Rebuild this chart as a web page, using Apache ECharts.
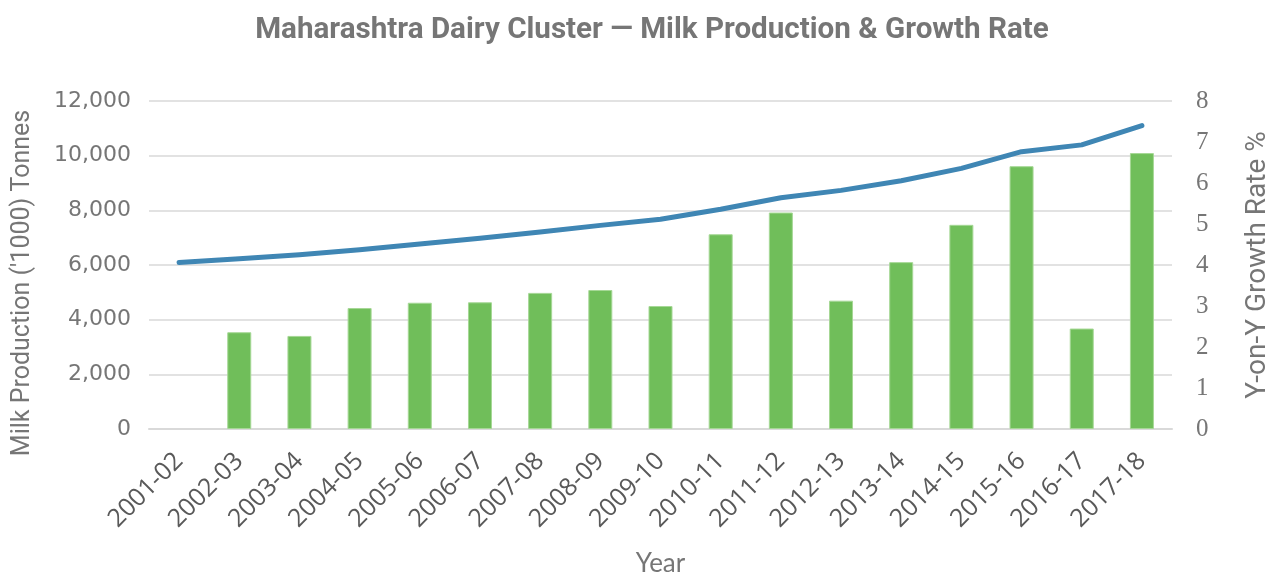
<!DOCTYPE html>
<html>
<head>
<meta charset="utf-8">
<title>Maharashtra Dairy Cluster</title>
<script src="https://cdn.jsdelivr.net/npm/echarts@6/dist/echarts.min.js"></script>
<style>
  html, body { margin: 0; padding: 0; background: #fff; }
  #chart { width: 1266px; height: 574px; }
</style>
</head>
<body>
<div id="chart"></div>
<script>
const years = ['2001-02', '2002-03', '2003-04', '2004-05', '2005-06', '2006-07', '2007-08', '2008-09', '2009-10',
  '2010-11', '2011-12', '2012-13', '2013-14', '2014-15', '2015-16', '2016-17', '2017-18'];
// milk production, '1000 tonnes
const production = [6090, 6230, 6375, 6560, 6765, 6975, 7205, 7450, 7675,
  8040, 8460, 8730, 9080, 9535, 10145, 10395, 11100];
// year-on-year growth, %
const growth = [null, 2.36, 2.27, 2.95, 3.08, 3.09, 3.32, 3.39, 3.0,
  4.75, 5.28, 3.13, 4.07, 4.98, 6.41, 2.45, 6.73];

const grey = '#767676';
const chart = echarts.init(document.getElementById('chart'));

chart.setOption({
  animation: false,
  title: {
    text: 'Maharashtra Dairy Cluster — Milk Production & Growth Rate',
    left: 647,
    top: 11,
    textAlign: 'center',
    textStyle: {
      fontFamily: 'Roboto, sans-serif',
      fontWeight: 'bold',
      fontSize: 29.6,
      color: '#767676',
    },
  },
  grid: { left: 149, right: 94, top: 101, bottom: 145, outerBoundsMode: 'none' },
  xAxis: {
    type: 'category',
    data: years,
    name: 'Year',
    nameLocation: 'middle',
    nameGap: 122,
    nameTextStyle: { fontFamily: 'Lato, sans-serif', fontSize: 26, color: grey },
    axisLine: { lineStyle: { color: '#d9d9d9', width: 2 } },
    axisTick: { show: false },
    axisLabel: {
      rotate: 45,
      interval: 0,
      margin: 28,
      fontFamily: '"Open Sans", sans-serif',
      fontSize: 25,
      color: '#595959',
    },
  },
  yAxis: [
    {
      type: 'value',
      min: 0,
      max: 12000,
      interval: 2000,
      name: "Milk Production ('1000) Tonnes",
      nameLocation: 'middle',
      nameGap: 114,
      nameRotate: 90,
      nameTextStyle: { fontFamily: 'Roboto, sans-serif', fontSize: 25, color: grey, padding: [0, 36, 0, 0] },
      axisLine: { show: false },
      axisTick: { show: false },
      axisLabel: {
        margin: 18,
        fontFamily: '"DejaVu Sans", sans-serif',
        fontSize: 22,
        color: grey,
        formatter: v => v.toLocaleString('en-US'),
      },
      splitLine: { lineStyle: { color: '#d9d9d9', width: 1.5 } },
    },
    {
      type: 'value',
      min: 0,
      max: 8,
      interval: 1,
      name: 'Y-on-Y Growth Rate %',
      nameLocation: 'middle',
      nameGap: 72,
      nameRotate: 90,
      nameTextStyle: { fontFamily: 'Roboto, sans-serif', fontSize: 28, color: grey },
      axisLine: { show: false },
      axisTick: { show: false },
      axisLabel: {
        margin: 24,
        fontFamily: '"Liberation Serif", serif',
        fontSize: 25,
        color: grey,
      },
      splitLine: { show: false },
    },
  ],
  series: [
    {
      name: 'Growth',
      type: 'bar',
      yAxisIndex: 1,
      data: growth,
      barWidth: 24,
      itemStyle: { color: '#70be5a', borderColor: '#a6d896', borderWidth: 1 },
    },
    {
      name: 'Production',
      type: 'line',
      yAxisIndex: 0,
      data: production,
      symbol: 'none',
      lineStyle: { color: '#3f86b4', width: 5, cap: 'round', join: 'round' },
    },
  ],
});
</script>
</body>
</html>
